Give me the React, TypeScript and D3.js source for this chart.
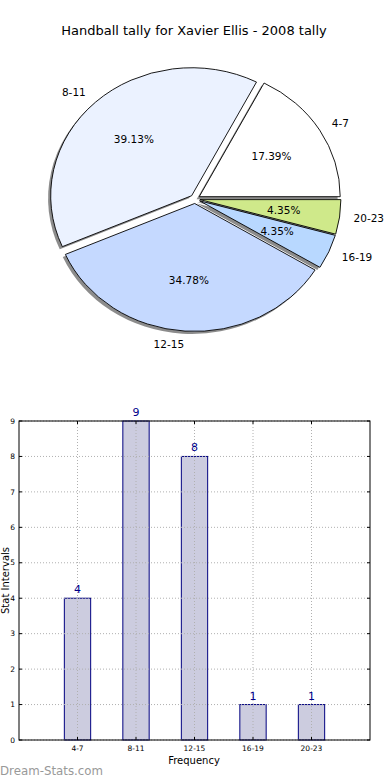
import React from "react";
import * as d3 from "d3";

const categories = ["4-7", "8-11", "12-15", "16-19", "20-23"];
const counts = [4, 9, 8, 1, 1];
const sliceColors = ["#ffffff", "#ebf2ff", "#c5d9ff", "#b8d8ff", "#cfe98a"];
const yTicks = [0, 1, 2, 3, 4, 5, 6, 7, 8, 9];
const title = "Handball tally for Xavier Ellis - 2008 tally";

const FONT = "DejaVu Sans, Verdana, sans-serif";

export default function App() {
  // Pie geometry
  const cx = 195, cy = 199, rx = 141, ry = 128;
  const explode = 0.035;
  const total = d3.sum(counts);
  const cum = d3.cumsum(counts);
  const slices = counts.map((v, i) => {
    const f0 = (i === 0 ? 0 : cum[i - 1]) / total;
    const f1 = cum[i] / total;
    const t0 = f0 * 2 * Math.PI, t1 = f1 * 2 * Math.PI; // matplotlib angles (ccw from east)
    const tm = (t0 + t1) / 2;
    const ox = cx + explode * rx * Math.cos(tm);
    const oy = cy - explode * ry * Math.sin(tm);
    const path = d3.arc()({
      innerRadius: 0,
      outerRadius: 1,
      startAngle: Math.PI / 2 - t0,
      endAngle: Math.PI / 2 - t1,
    } as any) as string;
    return { v, i, tm, ox, oy, path, pct: (v / total) * 100 };
  });

  // Bar chart geometry
  const left = 19, right = 370, top = 421, bottom = 740;
  const x = d3.scaleLinear().domain([0, categories.length + 1]).range([left, right]);
  const y = d3.scaleLinear().domain([0, 9]).range([bottom, top]);
  const barW = (x(1) - x(0)) * 0.45;

  return (
    <div style={{ position: "absolute", left: 0, top: 0 }}>
      <svg width={390} height={780} style={{ display: "block", fontFamily: FONT }}>
        <rect width={390} height={780} fill="#ffffff" />
        <text x={194} y={35} textAnchor="middle" fontSize={13} fill="#000">{title}</text>

        {/* shadows */}
        {slices.map((s) => (
          <path key={"sh" + s.i} d={s.path}
            transform={`translate(${s.ox - 2.6},${s.oy + 2.6}) scale(${rx},${ry})`}
            fill="#000" fillOpacity={0.45} stroke="none" />
        ))}
        {slices.map((s) => (
          <path key={"sl" + s.i} d={s.path}
            transform={`translate(${s.ox},${s.oy}) scale(${rx},${ry})`}
            fill={sliceColors[s.i]} stroke="#000" strokeWidth={0.9}
            vectorEffect="non-scaling-stroke" strokeLinejoin="round" />
        ))}
        {slices.map((s) => {
          const lx = s.ox + 1.1 * rx * Math.cos(s.tm);
          const ly = s.oy - 1.1 * ry * Math.sin(s.tm);
          const px = s.ox + 0.6 * rx * Math.cos(s.tm);
          const py = s.oy - 0.6 * ry * Math.sin(s.tm);
          return (
            <g key={"lb" + s.i} fontSize={10.5} fill="#000">
              <text x={lx} y={ly} dy="0.35em" textAnchor={Math.cos(s.tm) > 0 ? "start" : "end"}>{categories[s.i]}</text>
              <text x={px} y={py} dy="0.35em" textAnchor="middle">{s.pct.toFixed(2) + "%"}</text>
            </g>
          );
        })}

        {/* Bar chart */}
        {categories.map((c, i) => (
          <rect key={"b" + i} x={x(i + 1) - barW / 2} y={y(counts[i])}
            width={barW} height={y(0) - y(counts[i])}
            fill="#ccccdf" stroke="#000080" strokeWidth={1} />
        ))}
        {/* grid */}
        {yTicks.map((t) => (
          <line key={"gy" + t} x1={left} x2={right} y1={y(t)} y2={y(t)}
            stroke="#b0b0b0" strokeWidth={1} strokeDasharray="1,2" />
        ))}
        {categories.map((c, i) => (
          <line key={"gx" + i} x1={x(i + 1)} x2={x(i + 1)} y1={top} y2={bottom}
            stroke="#b0b0b0" strokeWidth={1} strokeDasharray="1,2" />
        ))}
        <rect x={left} y={top} width={right - left} height={bottom - top} fill="none" stroke="#000" strokeWidth={1} />
        {yTicks.map((t) => (
          <g key={"ty" + t}>
            <line x1={left} x2={left + 3} y1={y(t)} y2={y(t)} stroke="#000" />
            <line x1={right - 3} x2={right} y1={y(t)} y2={y(t)} stroke="#000" />
            <text x={15} y={y(t)} dy="0.35em" textAnchor="end" fontSize={7.5} fill="#000">{t}</text>
          </g>
        ))}
        {categories.map((c, i) => (
          <g key={"tx" + i}>
            <line x1={x(i + 1)} x2={x(i + 1)} y1={bottom} y2={bottom - 3} stroke="#000" />
            <line x1={x(i + 1)} x2={x(i + 1)} y1={top} y2={top + 3} stroke="#000" />
            <text x={x(i + 1)} y={751} textAnchor="middle" fontSize={7.5} fill="#000">{c}</text>
          </g>
        ))}
        {categories.map((c, i) => (
          <text key={"v" + i} x={x(i + 1)} y={y(counts[i]) - 5} textAnchor="middle"
            fontSize={11} fill="#00008b">{counts[i]}</text>
        ))}
        <text x={194} y={764} textAnchor="middle" fontSize={10} fill="#000">Frequency</text>
        <text transform={`translate(9,${(top + bottom) / 2}) rotate(-90)`} textAnchor="middle"
          fontSize={10} fill="#000">Stat Intervals</text>
        <text x={0} y={775} fontSize={11.8} fill="#999999">Dream-Stats.com</text>
      </svg>
    </div>
  );
}
